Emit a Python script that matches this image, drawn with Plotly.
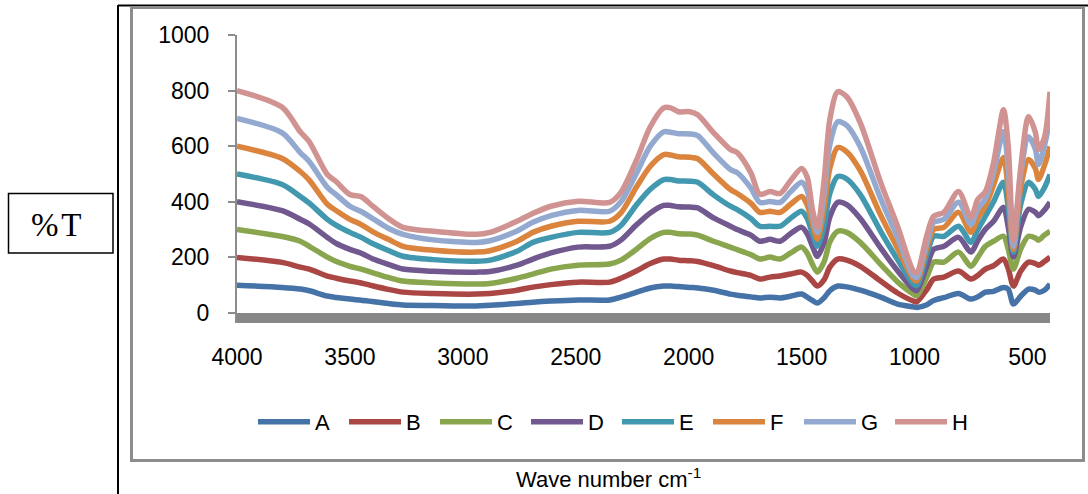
import plotly.graph_objects as go

wavenumber = [4000, 3800, 3720, 3680, 3600, 3560, 3500, 3450, 3400, 3330, 3265, 3130, 2940, 2880,
              2760, 2690, 2610, 2490, 2350, 2300, 2230, 2170, 2110, 2080, 2045, 1995, 1960, 1890,
              1815, 1785, 1725, 1685, 1640, 1595, 1550, 1500, 1475, 1452, 1430, 1400, 1375, 1340,
              1300, 1240, 1150, 1075, 1005, 990, 945, 915, 870, 805, 750, 720, 686, 650, 606, 585,
              562, 530, 495, 465, 451, 425, 400]

A = [100, 92, 86, 80, 61, 56, 50, 46, 41, 34, 29, 27, 25, 28,
     34, 39, 43, 47, 47, 57, 75, 90, 97, 97, 95, 92, 90, 82,
     68, 64, 58, 54, 57, 54, 60, 68, 57, 45, 36, 55, 80, 97,
     94, 82, 57, 32, 22, 20, 30, 45, 55, 70, 50, 58, 75, 78, 92, 86,
     32, 60, 86, 82, 75, 82, 104]
B = [200, 182, 165, 158, 133, 125, 115, 108, 98, 85, 75, 70, 68, 70,
     82, 93, 102, 111, 111, 125, 152, 178, 194, 194, 190, 188, 185, 170,
     151, 145, 135, 122, 129, 133, 140, 147, 135, 115, 97, 120, 165, 194,
     190, 168, 115, 72, 43, 40, 85, 122, 129, 151, 122, 135, 158, 170, 194, 160,
     97, 150, 183, 178, 172, 185, 201]
C = [300, 275, 258, 240, 201, 185, 168, 158, 145, 128, 115, 108, 104, 106,
     125, 140, 158, 172, 176, 190, 230, 268, 290, 290, 285, 284, 280, 258,
     237, 228, 210, 194, 201, 194, 215, 237, 215, 175, 147, 185, 255, 294,
     290, 254, 175, 112, 68, 62, 130, 183, 183, 219, 168, 200, 240, 258, 276, 230,
     158, 230, 276, 270, 262, 280, 294]
D = [400, 368, 337, 320, 272, 250, 229, 215, 195, 175, 158, 150, 147, 149,
     172, 194, 216, 237, 240, 262, 318, 360, 387, 387, 382, 381, 378, 342,
     312, 300, 280, 258, 265, 258, 285, 308, 285, 240, 204, 255, 345, 398,
     390, 340, 234, 152, 86, 80, 170, 229, 240, 272, 219, 260, 301, 330, 380, 310,
     201, 310, 373, 362, 350, 370, 398]
E = [500, 462, 419, 395, 337, 315, 290, 272, 250, 225, 204, 192, 186, 190,
     222, 254, 272, 290, 290, 315, 390, 445, 480, 480, 475, 474, 470, 425,
     384, 372, 340, 312, 312, 312, 340, 366, 340, 285, 240, 315, 430, 491,
     482, 426, 294, 192, 104, 98, 210, 276, 276, 312, 254, 300, 348, 400, 470, 380,
     219, 390, 470, 445, 419, 450, 498]
F = [600, 556, 509, 478, 391, 368, 337, 318, 293, 265, 240, 226, 219, 224,
     258, 290, 312, 330, 330, 360, 455, 528, 570, 568, 562, 560, 555, 500,
     444, 430, 395, 362, 366, 362, 390, 419, 388, 320, 265, 380, 520, 595,
     580, 512, 352, 232, 122, 115, 235, 301, 308, 362, 290, 340, 384, 460, 559, 440,
     229, 450, 552, 520, 480, 530, 599]
G = [700, 648, 577, 545, 452, 425, 384, 365, 340, 305, 283, 263, 254, 260,
     295, 326, 350, 369, 366, 400, 505, 600, 652, 650, 645, 644, 638, 575,
     516, 505, 450, 398, 401, 398, 435, 470, 440, 350, 290, 430, 605, 688,
     675, 598, 411, 272, 133, 128, 255, 326, 337, 398, 319, 375, 410, 505, 652, 520,
     240, 500, 634, 590, 534, 600, 702]
H = [800, 740, 652, 616, 498, 472, 426, 418, 385, 340, 308, 294, 283, 290,
     330, 358, 384, 402, 398, 434, 552, 670, 738, 738, 724, 724, 713, 649,
     588, 577, 505, 427, 437, 430, 475, 520, 488, 373, 308, 480, 695, 796,
     778, 684, 470, 312, 151, 145, 280, 348, 362, 437, 344, 408, 437, 540, 731, 600,
     260, 520, 706, 650, 588, 630, 796]

series = {"A": A, "B": B, "C": C, "D": D, "E": E, "F": F, "G": G, "H": H}
colors = {"A": "#4572A7", "B": "#AA4643", "C": "#89A54E", "D": "#71588F",
          "E": "#4198AF", "F": "#DB843D", "G": "#93A9CF", "H": "#D19392"}

x_ticks = [4000, 3500, 3000, 2500, 2000, 1500, 1000, 500]
y_ticks = [0, 200, 400, 600, 800, 1000]

fig = go.Figure()
for name, vals in series.items():
    fig.add_trace(go.Scatter(x=wavenumber, y=vals, name=name, mode="lines",
                             line=dict(color=colors[name], width=5.5, shape="spline", smoothing=0.8)))

L, R, T, B_ = 237, 38, 35, 171
W, Hh = 1088, 494
pw = W - L - R
ph = Hh - T - B_

def px(xp):
    return (xp - L) / pw

def py(yp):
    return (Hh - B_ - yp) / ph

shapes = [
    dict(type="rect", xref="x", yref="y", x0=4000, x1=400, y0=-36, y1=0,
         fillcolor="#878787", line=dict(width=0), layer="below"),
    dict(type="line", xref="paper", yref="paper", x0=px(118), x1=px(118), y0=py(5), y1=py(494),
         line=dict(color="black", width=2)),
    dict(type="line", xref="paper", yref="paper", x0=px(118), x1=px(1088), y0=py(5.5), y1=py(5.5),
         line=dict(color="black", width=2)),
    dict(type="rect", xref="paper", yref="paper", x0=px(131.5), x1=px(1083.5), y0=py(460.5), y1=py(7.5),
         line=dict(color="#8C8C8C", width=3), fillcolor="rgba(0,0,0,0)"),
    dict(type="rect", xref="paper", yref="paper", x0=px(8.5), x1=px(113), y0=py(253), y1=py(193.5),
         line=dict(color="black", width=1.5), fillcolor="white"),
]

annotations = [
    dict(text="%\u200aT", xref="paper", yref="paper", x=px(56), y=py(225), showarrow=False,
         font=dict(family="Liberation Serif", size=33, color="black"), xanchor="center", yanchor="middle"),
    dict(text="Wave number cm<sup>-1</sup>", xref="paper", yref="paper", x=px(608), y=py(478),
         showarrow=False, font=dict(family="Liberation Sans", size=22, color="black"),
         xanchor="center", yanchor="middle"),
]

fig.update_layout(
    width=W, height=Hh,
    margin=dict(l=L, r=R, t=T, b=B_, pad=0),
    paper_bgcolor="white", plot_bgcolor="white",
    font=dict(family="Liberation Sans", color="black"),
    shapes=shapes, annotations=annotations,
    legend=dict(orientation="h", x=px(253), y=py(422), xanchor="left", yanchor="middle",
                font=dict(size=22, family="Liberation Sans", color="black"),
                itemwidth=52, entrywidth=24, entrywidthmode="pixels",
                bgcolor="rgba(0,0,0,0)", traceorder="normal"),
    showlegend=True,
)

fig.update_xaxes(range=[4000, 400], tickvals=x_ticks, ticktext=[str(v) for v in x_ticks],
                 showgrid=False, zeroline=False, showline=False, ticks="",
                 tickfont=dict(size=23, family="Liberation Sans", color="black"),
                 ticklabelstandoff=18)
fig.update_yaxes(range=[-36, 1000], tickvals=y_ticks, ticktext=[str(v) for v in y_ticks],
                 showgrid=False, zeroline=False, showline=True, linecolor="#8C8C8C", linewidth=2,
                 ticks="outside", ticklen=7, tickcolor="#8C8C8C", tickwidth=1.5,
                 tickfont=dict(size=23, family="Liberation Sans", color="black"),
                 ticklabelstandoff=14)

fig.write_html("out.html")
